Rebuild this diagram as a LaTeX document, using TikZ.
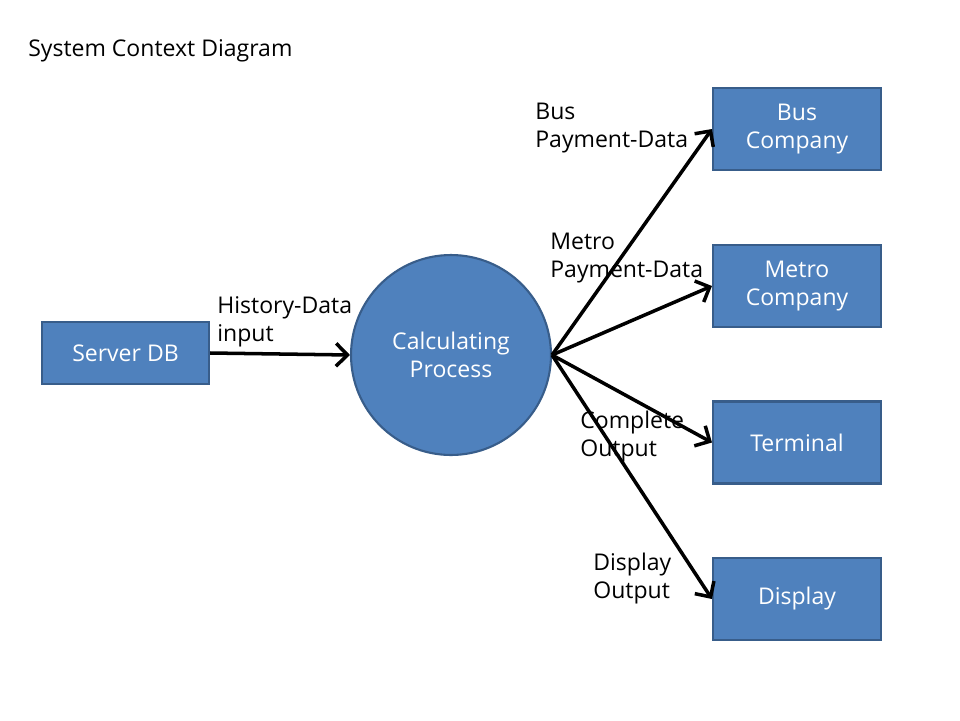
\documentclass[tikz,border=0pt]{standalone}
\usepackage{fontspec}
\setmainfont{Open Sans}
\usetikzlibrary{arrows.meta}
\definecolor{boxfill}{HTML}{4F81BD}
\definecolor{boxline}{HTML}{385D8A}
\begin{document}
\begin{tikzpicture}[x=0.02cm,y=-0.02cm,
  txt/.style={font=\fontsize{13.1}{15.9}\selectfont},
  ent/.style={txt, draw=boxline, line width=1.2pt, fill=boxfill, text=white,
    minimum width=3.36cm, minimum height=1.64cm, align=center, inner sep=0pt},
  proc/.style={txt, circle, draw=boxline, line width=1.2pt, fill=boxfill, text=white,
    minimum size=4cm, align=center, inner sep=0pt},
  flow/.style={line width=2pt, -{Straight Barb[length=6.5pt,width=13pt]}},
  lbl/.style={txt, align=left, anchor=base west, inner sep=0pt}]
\useasboundingbox[fill=white] (0,0) rectangle (960,720);
\node[lbl] (title) at (28,56) {System Context Diagram};
\node[ent, minimum width=3.34cm, minimum height=1.24cm] (db) at (125.5,353) {Server DB};
\node[proc] (calc) at (451,355) {Calculating\\Process};
\node[ent] (bus) at (797,129) {Bus\\Company};
\node[ent] (metro) at (797,286) {Metro\\Company};
\node[ent] (term) at (797,442.5) {Terminal};
\node[ent] (disp) at (797,599) {Display};
\draw[flow] (db.east) -- (calc.west);
\draw[flow] (calc.east) -- (bus.west);
\draw[flow] (calc.east) -- (metro.west);
\draw[flow] (calc.east) -- (term.west);
\draw[flow] (calc.east) -- (disp.west);
\node[lbl] (l1) at (217,341) {History-Data\\input};
\node[lbl] (l2) at (535,147) {Bus\\Payment-Data};
\node[lbl] (l3) at (550,277) {Metro\\Payment-Data};
\node[lbl] (l4) at (580,456) {Complete\\Output};
\node[lbl] (l5) at (593,598) {Display\\Output};
\end{tikzpicture}
\end{document}
